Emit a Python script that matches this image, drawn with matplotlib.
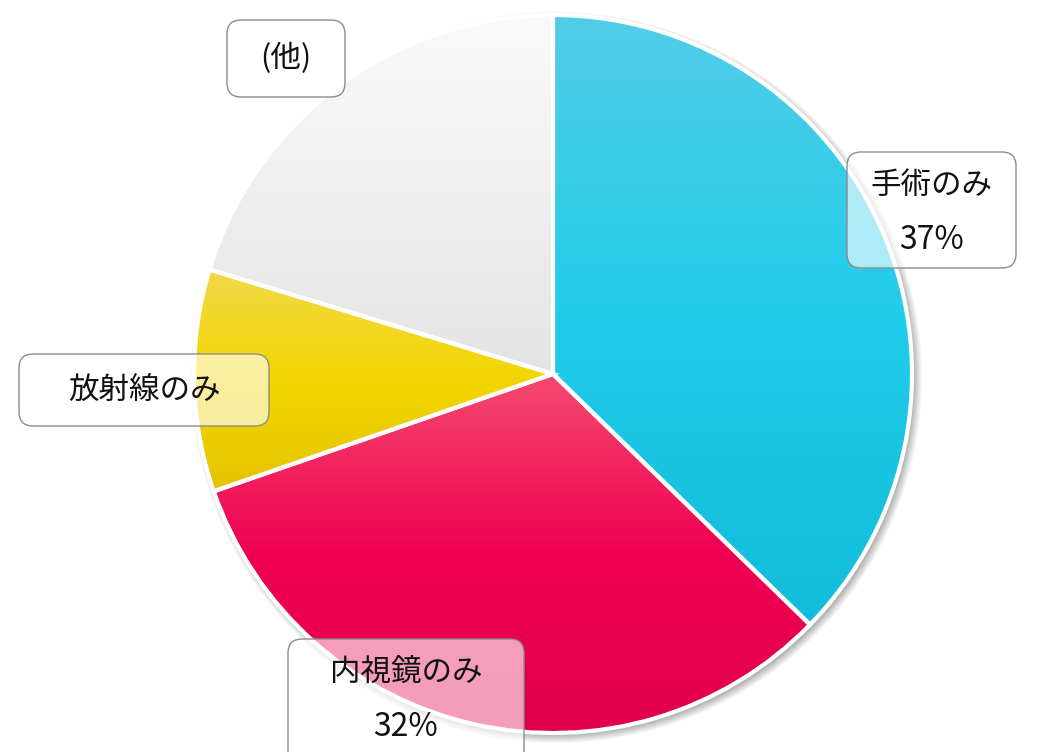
import numpy as np
import matplotlib
matplotlib.use("Agg")
import matplotlib.pyplot as plt
from matplotlib.colors import LinearSegmentedColormap
from matplotlib.patches import FancyBboxPatch

plt.rcParams['font.family'] = ['Noto Sans CJK JP', 'DejaVu Sans']

labels = ['手術のみ', '内視鏡のみ', '放射線のみ', '(他)']
values = [37.3, 32.4, 10.0, 20.3]
shown_pct = ['37%', '32%', None, None]
# top / middle / bottom colours of each slice's gradient
grad_top = ['#52CDE7', '#F4496F', '#F2D84A', '#FAFAFA']
grad_mid = ['#20CCEB', '#EF0052', '#F3D600', '#EFEFEF']
grad_bot = ['#12BCDA', '#E0004B', '#E5C300', '#E4E4E4']

W, H = 1054, 752
fig = plt.figure(figsize=(W / 100, H / 100), dpi=100)
ax = fig.add_axes([0, 0, 1, 1])

cx, cy, R = 553, 378, 359

# soft shadow behind the pie
yy, xx = np.mgrid[0:H, 0:W]
d = np.hypot(xx - (cx + 3), (H - yy) - (cy - 3))
sh = np.clip((R + 7 - d) / 9, 0, 1) * 0.3
shadow = np.zeros((H, W, 4))
shadow[..., 3] = sh
ax.imshow(shadow, extent=(0, W, 0, H), zorder=0, aspect='auto')

wedges, _ = ax.pie(values, startangle=90, counterclock=False, center=(cx, cy),
                   radius=R, frame=True,
                   wedgeprops=dict(edgecolor='white', linewidth=3))
ax.set_xlim(0, W)
ax.set_ylim(0, H)
ax.axis('off')

for w, ct, cm, cb in zip(wedges, grad_top, grad_mid, grad_bot):
    w.set_facecolor('none')
    w.set_zorder(3)
    ext = w.get_path().get_extents(w.get_transform() + ax.transData.inverted())
    cmap = LinearSegmentedColormap.from_list('g', [cb, cm, ct])
    grad = np.linspace(0, 1, 256).reshape(-1, 1)
    im = ax.imshow(grad, cmap=cmap, origin='lower', aspect='auto',
                   extent=(ext.x0, ext.x1, ext.y0, ext.y1), zorder=2)
    im.set_clip_path(w)

# label boxes: (x0, y0 top, width, height) in pixels from top-left
boxes = [(847, 152, 169, 116), (288, 639, 236, 130), (19, 354, 250, 72), (227, 20, 118, 77)]
for lab, pct, (bx, by, bw, bh) in zip(labels, shown_pct, boxes):
    y0 = H - by - bh
    ax.add_patch(FancyBboxPatch((bx, y0), bw, bh, boxstyle='round,pad=0,rounding_size=14',
                                facecolor=(1, 1, 1, 0.62), edgecolor='#8c8c8c',
                                linewidth=1, zorder=5, clip_on=False))
    xc = bx + bw / 2
    if pct is None:
        ax.text(xc, H - by - bh / 2, lab, ha='center', va='center', fontsize=22,
                color='#111111', zorder=6)
    else:
        ax.text(xc, H - by - 34, lab, ha='center', va='center', fontsize=22,
                color='#111111', zorder=6)
        ax.text(xc, H - by - 88, pct, ha='center', va='center', fontsize=23,
                color='#111111', zorder=6)

fig.savefig('out.png', dpi=100)
